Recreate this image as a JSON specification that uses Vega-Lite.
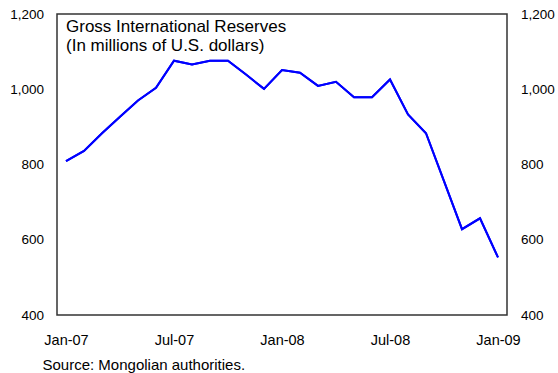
{
  "$schema": "https://vega.github.io/schema/vega-lite/v6.json",
  "width": 450,
  "height": 301,
  "autosize": {"type": "none"},
  "padding": {"left": 57, "top": 14, "right": 51, "bottom": 58},
  "background": "white",
  "config": {
    "font": "Liberation Sans",
    "view": {"stroke": "#333333", "strokeWidth": 1.5},
    "axis": {"grid": false, "ticks": false, "domain": false, "labelFont": "Liberation Sans", "labelFontSize": 13.5, "labelColor": "#000000"}
  },
  "title": {
    "text": "Gross International Reserves",
    "subtitle": "(In millions of U.S. dollars)",
    "anchor": "start",
    "frame": "group",
    "orient": "top",
    "dx": 9,
    "dy": 52,
    "font": "Liberation Sans",
    "fontSize": 17,
    "fontWeight": "normal",
    "color": "#000000",
    "subtitleFont": "Liberation Sans",
    "subtitleFontSize": 17,
    "subtitleColor": "#000000",
    "subtitlePadding": 2
  },
  "data": {
    "values": [
      {"month": "Jan-07", "reserves": 809},
      {"month": "Feb-07", "reserves": 836},
      {"month": "Mar-07", "reserves": 883},
      {"month": "Apr-07", "reserves": 927},
      {"month": "May-07", "reserves": 970},
      {"month": "Jun-07", "reserves": 1004},
      {"month": "Jul-07", "reserves": 1076},
      {"month": "Aug-07", "reserves": 1066},
      {"month": "Sep-07", "reserves": 1076},
      {"month": "Oct-07", "reserves": 1076},
      {"month": "Nov-07", "reserves": 1039},
      {"month": "Dec-07", "reserves": 1001},
      {"month": "Jan-08", "reserves": 1051},
      {"month": "Feb-08", "reserves": 1044},
      {"month": "Mar-08", "reserves": 1009},
      {"month": "Apr-08", "reserves": 1020},
      {"month": "May-08", "reserves": 979},
      {"month": "Jun-08", "reserves": 979},
      {"month": "Jul-08", "reserves": 1026},
      {"month": "Aug-08", "reserves": 933},
      {"month": "Sep-08", "reserves": 883},
      {"month": "Oct-08", "reserves": 756},
      {"month": "Nov-08", "reserves": 628},
      {"month": "Dec-08", "reserves": 657},
      {"month": "Jan-09", "reserves": 553}
    ]
  },
  "encoding": {
    "x": {
      "field": "month",
      "type": "ordinal",
      "sort": null,
      "scale": {"type": "point", "padding": 0.5},
      "axis": {
        "labelAngle": 0,
        "labelPadding": 18,
        "labelFontSize": 14.5,
        "labelExpr": "test(/^(Jan|Jul)/, datum.value) ? datum.value : ''",
        "title": "Source: Mongolian authorities.",
        "titleFont": "Liberation Sans",
        "titleFontSize": 15,
        "titleFontWeight": "normal",
        "titleColor": "#000000",
        "titleAnchor": "start",
        "titleAlign": "left",
        "titleBaseline": "alphabetic",
        "titleX": -15,
        "titleY": 54
      }
    },
    "y": {
      "field": "reserves",
      "type": "quantitative",
      "scale": {"domain": [400, 1200], "nice": false}
    }
  },
  "layer": [
    {
      "mark": {"type": "line", "color": "#0000FF", "strokeWidth": 2},
      "encoding": {
        "y": {"field": "reserves", "type": "quantitative", "scale": {"domain": [400, 1200], "nice": false},
          "axis": {"orient": "left", "values": [400, 600, 800, 1000, 1200], "format": ",.0f", "labelPadding": 13.5, "title": null}}
      }
    },
    {
      "mark": {"type": "line", "color": "#0000FF", "strokeWidth": 2},
      "encoding": {
        "y": {"field": "reserves", "type": "quantitative", "scale": {"domain": [400, 1200], "nice": false},
          "axis": {"orient": "right", "values": [400, 600, 800, 1000, 1200], "format": ",.0f", "labelPadding": 13.5, "title": null}}
      }
    }
  ],
  "resolve": {"axis": {"y": "independent"}}
}
